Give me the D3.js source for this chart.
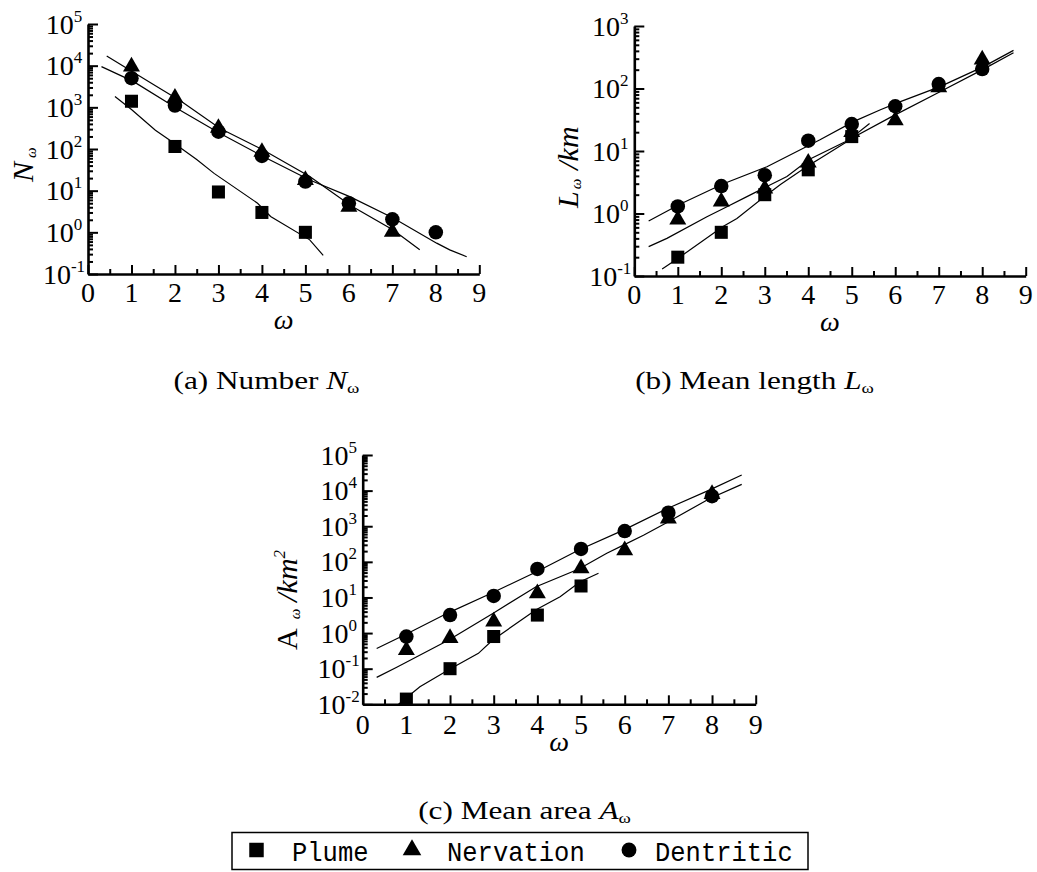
<!DOCTYPE html>
<html>
<head>
<meta charset="utf-8">
<script src="https://cdn.jsdelivr.net/npm/d3@7"></script>
<style>
  html, body { margin: 0; padding: 0; background: #fff; }
  svg { display: block; }
  text { font-family: "Liberation Serif", "Times New Roman", Times, serif; fill: #000; }
</style>
</head>
<body>
<svg id="chart" width="1037" height="872"></svg>
<script>
// ---------------- data ----------------
const orders = [1, 2, 3, 4, 5, 6, 7, 8];
const xTickValues = [0, 1, 2, 3, 4, 5, 6, 7, 8, 9];
const xMinorValues = [0.5, 1.5, 2.5, 3.5, 4.5, 5.5, 6.5, 7.5, 8.5];
const seriesNames = ["Plume", "Nervation", "Dentritic"];

// Number of streams N_ω
const numberPlume = [1400, 115, 9.3, 3.0, 1.0];
const numberNervation = [9500, 1700, 320, 85, 18, 4.1, 1.03];
const numberDentritic = [5000, 1100, 260, 68, 16.5, 5.0, 2.05, 1.0];
const numberFitPlume = [[0.62, 1820], [1.0, 890], [1.55, 282], [1.9, 158], [2.5, 56], [2.9, 26], [3.9, 5.0], [4.2, 2.4], [5.1, 0.66], [5.41, 0.28]];
const numberFitNervation = [[0.43, 17000], [1.58, 3160], [2.15, 1380], [3.03, 316], [4.03, 95], [5.1, 22], [6.06, 4.3], [7.02, 1.14], [7.63, 0.38]];
const numberFitDentritic = [[0.31, 9500], [1.04, 4200], [2.04, 950], [3.03, 240], [4.03, 66], [5.1, 18], [6.02, 7.2], [7.02, 2.2], [8.02, 0.55], [8.32, 0.38], [8.71, 0.26]];

// Mean length L_ω (km)
const lengthPlume = [0.2, 0.5, 2.0, 5.0, 17];
const lengthNervation = [0.8, 1.55, 2.5, 6.5, 20, 31, 104, 290];
const lengthDentritic = [1.3, 2.75, 4.1, 14.6, 27, 52, 118, 205];
const lengthFitPlume = [[0.64, 0.13], [1.06, 0.204], [2.04, 0.62], [2.36, 0.83], [3.05, 2.0], [3.36, 2.9], [4.03, 6.0], [4.27, 7.6], [4.85, 13.5], [5.41, 27.5]];
const lengthFitNervation = [[0.33, 0.295], [0.75, 0.40], [1.67, 0.89], [2.05, 1.2], [2.59, 1.86], [3.05, 2.7], [3.51, 3.9], [4.03, 7.4], [4.85, 14.1], [5.92, 35.5], [7.03, 89], [8.03, 204], [8.72, 372]];
const lengthFitDentritic = [[0.33, 0.76], [1.06, 1.42], [2.05, 3.0], [3.05, 5.6], [4.27, 15.1], [5.04, 29.5], [5.66, 45.7], [6.12, 61.7], [7.03, 107], [8.03, 224], [8.72, 407]];

// Mean area A_ω (km²)
const areaPlume = [0.014, 0.1, 0.8, 3.2, 21];
const areaNervation = [0.33, 0.72, 2.1, 13, 66, 210, 1650, 8000];
const areaDentritic = [0.8, 3.2, 11, 63, 230, 730, 2400, 7000];
const areaFitPlume = [[0.82, 0.01], [1.31, 0.031], [1.98, 0.095], [2.65, 0.27], [2.97, 0.63], [3.97, 4.5], [4.52, 10.5], [4.98, 27.5], [5.4, 48]];
const areaFitNervation = [[0.32, 0.057], [0.78, 0.11], [1.96, 0.63], [2.97, 3.5], [3.97, 20], [4.95, 63], [5.59, 174], [5.97, 295], [6.43, 560], [6.96, 1260], [7.95, 6000], [8.68, 15000]];
const areaFitDentritic = [[0.32, 0.37], [0.98, 0.91], [1.96, 3.7], [2.97, 13.5], [3.97, 52], [4.95, 214], [5.97, 776], [6.98, 3160], [7.95, 10500], [8.68, 27500]];

// ---------------- drawing ----------------
const svg = d3.select("#chart");

const symbolFor = {
  Plume: d3.symbol().type(d3.symbolSquare).size(170),
  Nervation: d3.symbol().type(d3.symbolTriangle).size(125),
  Dentritic: d3.symbol().type(d3.symbolCircle).size(165)
};

function drawPanel(p) {
  const x = d3.scaleLinear().domain([0, 9]).range([p.left, p.right]);
  const y = d3.scaleLog().domain([Math.pow(10, p.minExp), Math.pow(10, p.maxExp)]).range([p.bottom, p.top]);
  const g = svg.append("g");

  const majors = d3.range(p.minExp, p.maxExp + 1).map(e => Math.pow(10, e));
  const minors = [];
  d3.range(p.minExp, p.maxExp).forEach(e => { for (let k = 2; k <= 9; k++) minors.push(k * Math.pow(10, e)); });

  // y axis with inward ticks
  g.append("g").attr("transform", `translate(${p.left},0)`)
    .call(d3.axisLeft(y).tickValues(majors).tickSizeInner(-10).tickSizeOuter(0).tickFormat(""));
  const yMinor = g.append("g").attr("transform", `translate(${p.left},0)`)
    .call(d3.axisLeft(y).tickValues(minors).tickSizeInner(-5).tickSizeOuter(0).tickFormat(""));
  yMinor.select(".domain").remove();

  // x axis with upward ticks
  g.append("g").attr("transform", `translate(0,${p.bottom})`)
    .call(d3.axisBottom(x).tickValues(xTickValues).tickSizeInner(-9).tickSizeOuter(0).tickFormat(""));
  const xMinor = g.append("g").attr("transform", `translate(0,${p.bottom})`)
    .call(d3.axisBottom(x).tickValues(xMinorValues).tickSizeInner(-5).tickSizeOuter(0).tickFormat(""));
  xMinor.select(".domain").remove();

  g.selectAll(".domain").attr("stroke", "#000").attr("stroke-width", 2.6);
  g.selectAll(".tick line").attr("stroke", "#000").attr("stroke-width", 2);

  // decade labels 10^n
  g.selectAll("text.ylab").data(majors).join("text")
    .attr("class", "ylab")
    .attr("x", p.left - 24)
    .attr("y", d => y(d) + 9.5)
    .attr("text-anchor", "middle")
    .style("font-size", "28px")
    .each(function (d) {
      const t = d3.select(this);
      t.append("tspan").text("10");
      t.append("tspan").attr("dy", -12).style("font-size", "17px").text(String(Math.round(Math.log10(d))));
    });

  // order labels
  g.selectAll("text.xlab").data(xTickValues).join("text")
    .attr("class", "xlab")
    .attr("x", d => x(d))
    .attr("y", p.bottom + p.xLabelGap)
    .attr("text-anchor", "middle")
    .style("font-size", "28px")
    .text(d => d);

  // x title
  g.append("text")
    .attr("x", (p.left + p.right) / 2)
    .attr("y", p.xTitleY)
    .attr("text-anchor", "middle")
    .style("font-size", "28px")
    .style("font-style", "italic")
    .text("ω");

  // fitted lines
  const line = d3.line().x(d => x(d[0])).y(d => y(d[1]));
  p.fits.forEach(f => {
    g.append("path").datum(f).attr("d", line)
      .attr("fill", "none").attr("stroke", "#000").attr("stroke-width", 1.2);
  });

  // observed points
  p.points.forEach((vals, i) => {
    const name = seriesNames[i];
    g.selectAll(null).data(vals).join("path")
      .attr("d", symbolFor[name]())
      .attr("transform", (d, j) => `translate(${x(orders[j])},${y(d)})`)
      .attr("fill", "#000");
  });
}

drawPanel({
  left: 88, right: 479.3, top: 24, bottom: 274, minExp: -1, maxExp: 5, xLabelGap: 28, xTitleY: 329,
  fits: [numberFitPlume, numberFitNervation, numberFitDentritic],
  points: [numberPlume, numberNervation, numberDentritic]
});
drawPanel({
  left: 634.3, right: 1025.7, top: 26, bottom: 276, minExp: -1, maxExp: 3, xLabelGap: 28, xTitleY: 331,
  fits: [lengthFitPlume, lengthFitNervation, lengthFitDentritic],
  points: [lengthPlume, lengthNervation, lengthDentritic]
});
drawPanel({
  left: 362.7, right: 755.7, top: 455, bottom: 704.3, minExp: -2, maxExp: 5, xLabelGap: 30, xTitleY: 751,
  fits: [areaFitPlume, areaFitNervation, areaFitDentritic],
  points: [areaPlume, areaNervation, areaDentritic]
});

// y titles (rotated)
function yTitle(xb, yStart, parts) {
  const t = svg.append("text")
    .attr("transform", `translate(${xb},${yStart}) rotate(-90)`)
    .style("font-size", "30px");
  parts.forEach(pt => {
    const s = t.append("tspan").text(pt.text);
    if (pt.italic) s.style("font-style", "italic");
    if (pt.size) s.style("font-size", pt.size + "px");
    if (pt.dy) s.attr("dy", pt.dy);
    if (pt.dx) s.attr("dx", pt.dx);
  });
}
yTitle(33, 182, [
  { text: "N", italic: true },
  { text: "ω", italic: true, size: 15, dx: 4, dy: 3 }
]);
yTitle(578, 208, [
  { text: "L", italic: true },
  { text: "ω", italic: true, size: 15, dx: 2, dy: 3 },
  { text: "/km", italic: true, dx: 9, dy: -3 }
]);
yTitle(297, 650, [
  { text: "A" },
  { text: "ω", italic: true, size: 15, dx: 9, dy: 3 },
  { text: "/km", italic: true, dx: 7, dy: -3 },
  { text: "2", italic: true, size: 17, dy: -12 }
]);

// captions
function caption(cx, yb, label, sym) {
  const t = svg.append("text")
    .attr("transform", `translate(${cx},${yb}) scale(1.25,1)`)
    .attr("text-anchor", "middle")
    .style("font-size", "25px");
  t.append("tspan").text(label + " ");
  t.append("tspan").style("font-style", "italic").text(sym);
  t.append("tspan").attr("dy", 4).style("font-size", "15px").text("ω");
}
caption(266.5, 389, "(a) Number", "N");
caption(754.5, 389, "(b) Mean length", "L");
caption(524.5, 819, "(c) Mean area", "A");

// legend
const legendItems = [
  { name: "Plume", mx: 256.5, tx: 292 },
  { name: "Nervation", mx: 412, tx: 447 },
  { name: "Dentritic", mx: 629, tx: 655 }
];
svg.append("rect")
  .attr("x", 232).attr("y", 832.5).attr("width", 576).attr("height", 37)
  .attr("fill", "none").attr("stroke", "#000").attr("stroke-width", 1.5);
const legendSymbol = {
  Plume: d3.symbol().type(d3.symbolSquare).size(210),
  Nervation: d3.symbol().type(d3.symbolTriangle).size(150),
  Dentritic: d3.symbol().type(d3.symbolCircle).size(175)
};
legendItems.forEach(it => {
  svg.append("path").attr("d", legendSymbol[it.name]())
    .attr("transform", `translate(${it.mx},850)`).attr("fill", "#000");
  svg.append("text")
    .attr("x", it.tx).attr("y", 861)
    .style("font-family", "'Liberation Mono', 'Courier New', monospace")
    .style("font-size", "28px")
    .attr("textLength", it.name.length * 15.3)
    .attr("lengthAdjust", "spacingAndGlyphs")
    .text(it.name);
});
</script>
</body>
</html>
